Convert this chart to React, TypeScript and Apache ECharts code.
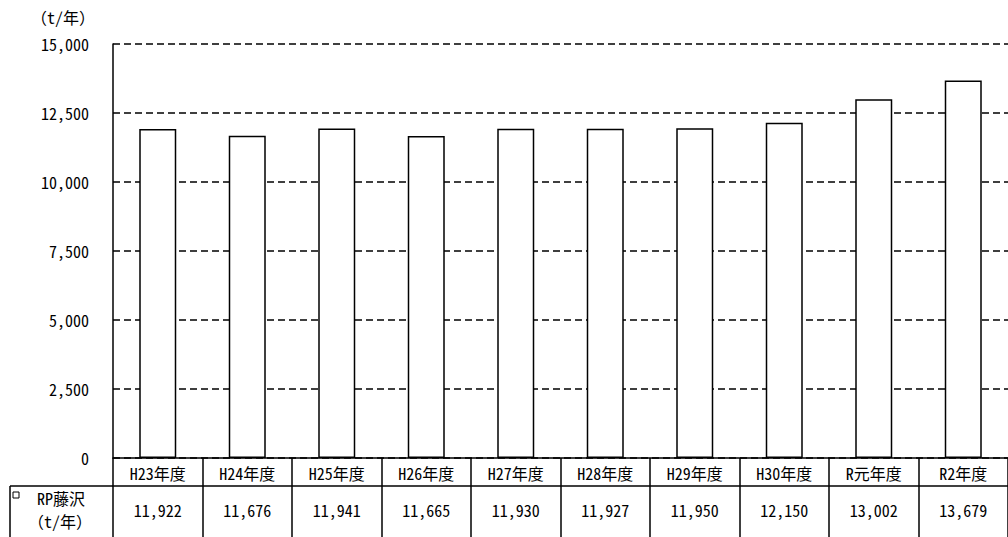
import React, { useEffect, useRef } from "react";
import * as echarts from "echarts";

const categories = ["H23年度", "H24年度", "H25年度", "H26年度", "H27年度", "H28年度", "H29年度", "H30年度", "R元年度", "R2年度"];
const values = [11922, 11676, 11941, 11665, 11930, 11927, 11950, 12150, 13002, 13679];
const seriesName = "RP藤沢";
const unitLabel = "（t/年）";
const yMin = 0;
const yMax = 15000;
const yInterval = 2500;

const FONT = "'Noto Sans Mono CJK JP', 'Noto Sans CJK JP', sans-serif";
const FS = 16;
const fmt = (v: number) => v.toLocaleString("en-US");

export default function App() {
  const ref = useRef<HTMLDivElement>(null);
  useEffect(() => {
    if (!ref.current) return;
    const chart = echarts.init(ref.current, null, { renderer: "svg" });
    chart.setOption({
      animation: false,
      backgroundColor: "#ffffff",
      textStyle: { fontFamily: FONT, color: "#000" },
      grid: { left: 113, top: 44, right: -10, bottom: 79, containLabel: false },
      xAxis: [
        {
          type: "category",
          data: categories,
          position: "bottom",
          axisLine: { show: true, lineStyle: { color: "#000", width: 1.5 } },
          axisTick: { show: true, alignWithLabel: false, inside: false, length: 79, lineStyle: { color: "#000", width: 1.5 } },
          axisLabel: { margin: 7, fontSize: FS, color: "#000", fontFamily: FONT, interval: 0 },
          splitLine: { show: false },
        },
        {
          type: "category",
          data: values.map(fmt),
          position: "bottom",
          offset: 28,
          axisLine: { show: true, lineStyle: { color: "#000", width: 1.5 } },
          axisTick: { show: false },
          axisLabel: { margin: 16, fontSize: FS, color: "#000", fontFamily: FONT, interval: 0 },
          splitLine: { show: false },
        },
      ],
      yAxis: {
        type: "value",
        min: yMin,
        max: yMax,
        interval: yInterval,
        name: unitLabel,
        nameLocation: "end",
        nameGap: 27,
        nameTextStyle: { fontSize: FS, color: "#000", fontFamily: FONT, align: "right", verticalAlign: "middle", padding: [0, 18, 0, 0] },
        axisLine: { show: true, lineStyle: { color: "#000", width: 1.5 } },
        axisTick: { show: false },
        axisLabel: { margin: 24, fontSize: FS, color: "#000", fontFamily: FONT, formatter: (v: number) => fmt(v) },
        splitLine: { show: true, lineStyle: { color: "#000", width: 1.5, type: [7, 4] } },
      },
      series: [
        {
          name: seriesName,
          type: "bar",
          xAxisIndex: 0,
          data: values,
          barWidth: 37,
          itemStyle: { color: "#ffffff", borderColor: "#000", borderWidth: 1.5 },
        },
      ],
      graphic: [
        { type: "line", shape: { x1: 10, y1: 486, x2: 113, y2: 486 }, style: { stroke: "#000", lineWidth: 1.5 } },
        { type: "line", shape: { x1: 10, y1: 486, x2: 10, y2: 537 }, style: { stroke: "#000", lineWidth: 1.5 } },
        { type: "rect", shape: { x: 13, y: 492, width: 6, height: 6 }, style: { fill: "#fff", stroke: "#000", lineWidth: 1 } },
        { type: "text", x: 37, y: 498, style: { text: seriesName, fontSize: FS, fontFamily: FONT, fill: "#000", verticalAlign: "middle", align: "left" } },
        { type: "text", x: 60, y: 521, style: { text: unitLabel, fontSize: FS, fontFamily: FONT, fill: "#000", verticalAlign: "middle", align: "center" } },
      ],
    });
    return () => chart.dispose();
  }, []);
  return <div ref={ref} style={{ position: "fixed", left: 0, top: 0, width: 1008, height: 537 }} />;
}
